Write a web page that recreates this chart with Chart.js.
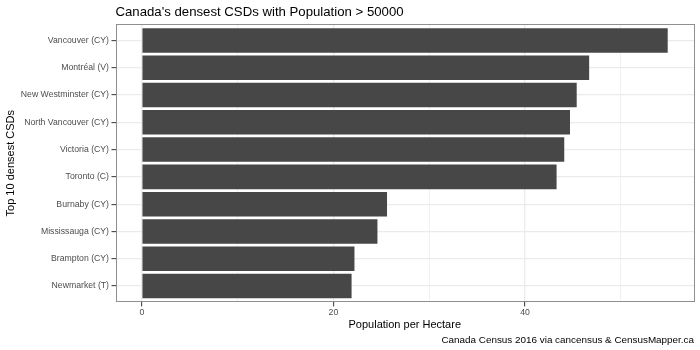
<!DOCTYPE html>
<html>
<head>
<meta charset="utf-8">
<script src="https://cdn.jsdelivr.net/npm/chart.js@4"></script>
<style>
  html, body { margin: 0; padding: 0; background: #ffffff; }
  #wrap { width: 700px; height: 350px; }
</style>
</head>
<body>
<div id="wrap"><canvas id="c" width="700" height="350"></canvas></div>
<script>
const categories = ["Vancouver (CY)", "Montréal (V)", "New Westminster (CY)", "North Vancouver (CY)", "Victoria (CY)", "Toronto (C)", "Burnaby (CY)", "Mississauga (CY)", "Brampton (CY)", "Newmarket (T)"];
const density = [54.9, 46.7, 45.4, 44.7, 44.1, 43.3, 25.6, 24.6, 22.2, 21.9];
const xMajorTicks = [0, 20, 40];
const xMinorTicks = [10, 30, 50];

const FONT = "'Liberation Sans', Arial, Helvetica, sans-serif";

const panelBorder = {
  id: 'panelBorder',
  afterDraw(chart) {
    const {ctx, chartArea: a} = chart;
    ctx.save();
    ctx.strokeStyle = '#8f8f8f';
    ctx.lineWidth = 1;
    ctx.strokeRect(Math.round(a.left) + 0.5, Math.round(a.top) + 0.5,
                   Math.round(a.right - a.left) - 1, Math.round(a.bottom - a.top) - 1);
    ctx.restore();
  }
};

const xMax = Math.max(...density);
new Chart(document.getElementById('c'), {
  type: 'bar',
  data: {
    datasets: [{
      data: categories.map((c, i) => ({x: density[i], y: i})),
      backgroundColor: '#474747',
      borderWidth: 0,
      barPercentage: 0.9,
      categoryPercentage: 1.0
    }]
  },
  options: {
    indexAxis: 'y',
    responsive: false,
    animation: false,
    devicePixelRatio: 1,
    layout: { padding: { left: 0, right: 6, top: 0, bottom: 0 } },
    plugins: {
      legend: { display: false },
      tooltip: { enabled: false },
      title: {
        display: true,
        text: "Canada's densest CSDs with Population > 50000",
        align: 'start',
        fullSize: false,
        color: '#000000',
        font: { family: FONT, size: 13.2, weight: 'normal' },
        padding: { top: 4, bottom: 4.2 }
      },
      subtitle: {
        display: true,
        position: 'bottom',
        text: 'Canada Census 2016 via cancensus & CensusMapper.ca',
        align: 'end',
        color: '#000000',
        font: { family: FONT, size: 9.9, weight: 'normal' },
        padding: { top: 2, bottom: 4 }
      }
    },
    scales: {
      x: {
        type: 'linear',
        min: -0.05 * xMax,
        max: 1.05 * xMax,
        offset: false,
        afterFit(s) { s.height = 29.7; },
        afterBuildTicks(s) {
          s.ticks = [...xMajorTicks, ...xMinorTicks].sort((a, b) => a - b).map(v => ({value: v}));
        },
        ticks: {
          autoSkip: false,
          maxRotation: 0,
          padding: 1,
          color: '#4D4D4D',
          font: { family: FONT, size: 8.7 },
          callback: (v) => xMajorTicks.includes(v) ? String(v) : ''
        },
        grid: {
          drawTicks: true,
          tickLength: 4,
          color: '#EBEBEB',
          lineWidth: (ctx) => (ctx.tick && xMajorTicks.includes(ctx.tick.value)) ? 1.3 : 0.7,
          tickColor: (ctx) => (ctx.tick && xMajorTicks.includes(ctx.tick.value)) ? '#333333' : 'rgba(0,0,0,0)',
          tickWidth: 1
        },
        border: { display: false },
        title: {
          display: true,
          text: 'Population per Hectare',
          color: '#000000',
          font: { family: FONT, size: 11 },
          padding: { top: 0, bottom: 0.5 }
        }
      },
      y: {
        type: 'linear',
        reverse: true,
        min: -0.6,
        max: categories.length - 1 + 0.6,
        offset: false,
        afterFit(s) { s.width = 115.5; },
        afterBuildTicks(s) {
          s.ticks = categories.map((c, i) => ({value: i}));
        },
        ticks: {
          autoSkip: false,
          padding: 2.5,
          color: '#4D4D4D',
          font: { family: FONT, size: 8.7 },
          callback: (v) => categories[v]
        },
        grid: {
          offset: false,
          drawTicks: true,
          tickLength: 4,
          color: '#EBEBEB',
          lineWidth: 1.3,
          tickColor: '#333333',
          tickWidth: 1
        },
        border: { display: false },
        title: {
          display: true,
          text: 'Top 10 densest CSDs',
          color: '#000000',
          font: { family: FONT, size: 11 },
          padding: { top: 4, bottom: 0 }
        }
      }
    }
  },
  plugins: [panelBorder]
});
</script>
</body>
</html>
